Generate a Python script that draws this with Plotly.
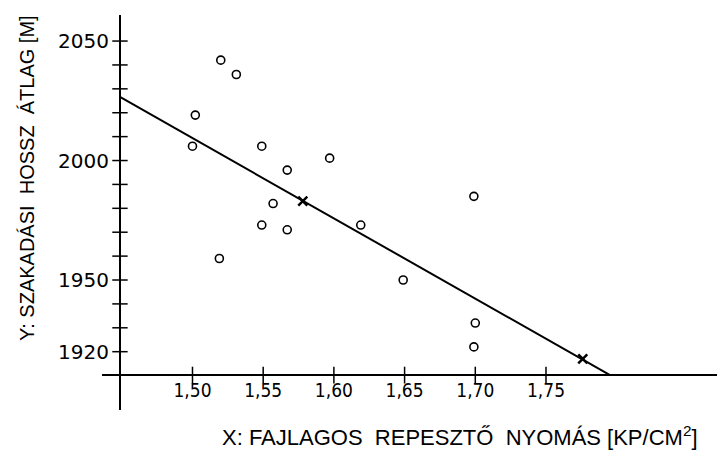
import plotly.graph_objects as go

# ---- data ----
x_obs = [1.520, 1.531, 1.502, 1.500, 1.549, 1.567, 1.597, 1.557, 1.549, 1.567, 1.619, 1.649, 1.699, 1.700, 1.699, 1.519]
y_obs = [2042, 2036, 2019, 2006, 2006, 1996, 2001, 1982, 1973, 1971, 1973, 1950, 1985, 1932, 1922, 1959]

x_mark = [1.578, 1.776]
y_mark = [1983, 1917]

line_x = [1.4487, 1.7953]
line_y = [2026.6, 1910.2]

x_tick_vals = [1.50, 1.55, 1.60, 1.65, 1.70, 1.75]
x_tick_text = ["1,50", "1,55", "1,60", "1,65", "1,70", "1,75"]
y_tick_vals = [1920, 1930, 1940, 1950, 1960, 1970, 1980, 1990, 2000, 2010, 2020, 2030, 2040, 2050]
y_label_vals = [1920, 1950, 2000, 2050]

x_title = "X: FAJLAGOS  REPESZTŐ  NYOMÁS [KP/CM<sup>2</sup>]"
y_title = "Y: SZAKADÁSI  HOSSZ  ÁTLAG [M]"

x_cross = 1.4487   # where the y axis stands
y_cross = 1910.2   # where the x axis stands

FONT_TICK = "DejaVu Sans Condensed, Liberation Sans Narrow, DejaVu Sans, sans-serif"
FONT_TITLE = "Liberation Sans, Arial, sans-serif"

fig = go.Figure()

# ticks crossing the axes
fig.add_trace(go.Scatter(
    x=[x_cross] * len(y_tick_vals), y=y_tick_vals, mode="markers",
    marker=dict(symbol="line-ew", size=11, line=dict(width=1.5, color="black")),
    hoverinfo="skip", showlegend=False))
fig.add_trace(go.Scatter(
    x=x_tick_vals, y=[y_cross] * len(x_tick_vals), mode="markers",
    marker=dict(symbol="line-ns", size=12, line=dict(width=1.5, color="black")),
    hoverinfo="skip", showlegend=False))

# regression line
fig.add_trace(go.Scatter(x=line_x, y=line_y, mode="lines",
                         line=dict(color="black", width=2), showlegend=False))
# observations
fig.add_trace(go.Scatter(x=x_obs, y=y_obs, mode="markers",
                         marker=dict(symbol="circle-open", size=8,
                                     line=dict(width=1.6, color="black"), color="black"),
                         showlegend=False))
# cross marks on the line
fig.add_trace(go.Scatter(x=x_mark, y=y_mark, mode="markers",
                         marker=dict(symbol="x-thin", size=9,
                                     line=dict(width=2.5, color="black"), color="black"),
                         showlegend=False))

OFF = 8  # page body margin
W, H = 725 - OFF, 455 - OFF
L, R, T, B = 102 - OFF, 0, 15 - OFF, 45
pw, ph = W - L - R, H - T - B

fig.update_layout(
    width=W, height=H,
    margin=dict(l=L, r=R, t=T, b=B, autoexpand=False),
    paper_bgcolor="white", plot_bgcolor="white",
    showlegend=False,
    font=dict(family=FONT_TITLE, color="black"),
    xaxis=dict(range=[1.4360, 1.8766], showgrid=False, zeroline=False,
               showline=True, linecolor="black", linewidth=1.5,
               anchor="free", position=(410 - 375) / ph,
               tickvals=x_tick_vals, ticktext=x_tick_text, ticks="",
               ticklabelstandoff=-2, automargin=False,
               tickfont=dict(family=FONT_TICK, size=19, color="black")),
    yaxis=dict(range=[1895.6, 2060.9], showgrid=False, zeroline=False,
               showline=True, linecolor="black", linewidth=2,
               anchor="free", position=(120 - 102) / pw,
               tickvals=y_label_vals, ticktext=[str(v) for v in y_label_vals], ticks="",
               ticklabelstandoff=6, automargin=False,
               tickfont=dict(family="DejaVu Sans, sans-serif", size=20, color="black")),
)

fig.add_annotation(text=x_title, xref="paper", yref="paper",
                   x=(460 - 102) / pw, y=-(436 - 410) / ph,
                   showarrow=False, xanchor="center", yanchor="middle",
                   font=dict(family=FONT_TITLE, size=22, color="black"))
fig.add_annotation(text=y_title, xref="paper", yref="paper",
                   x=-(102 - 27) / pw, y=1 - (178 - 15) / ph,
                   showarrow=False, textangle=-90, xanchor="center", yanchor="middle",
                   font=dict(family=FONT_TITLE, size=20, color="black"))

fig.write_html("out.html")
